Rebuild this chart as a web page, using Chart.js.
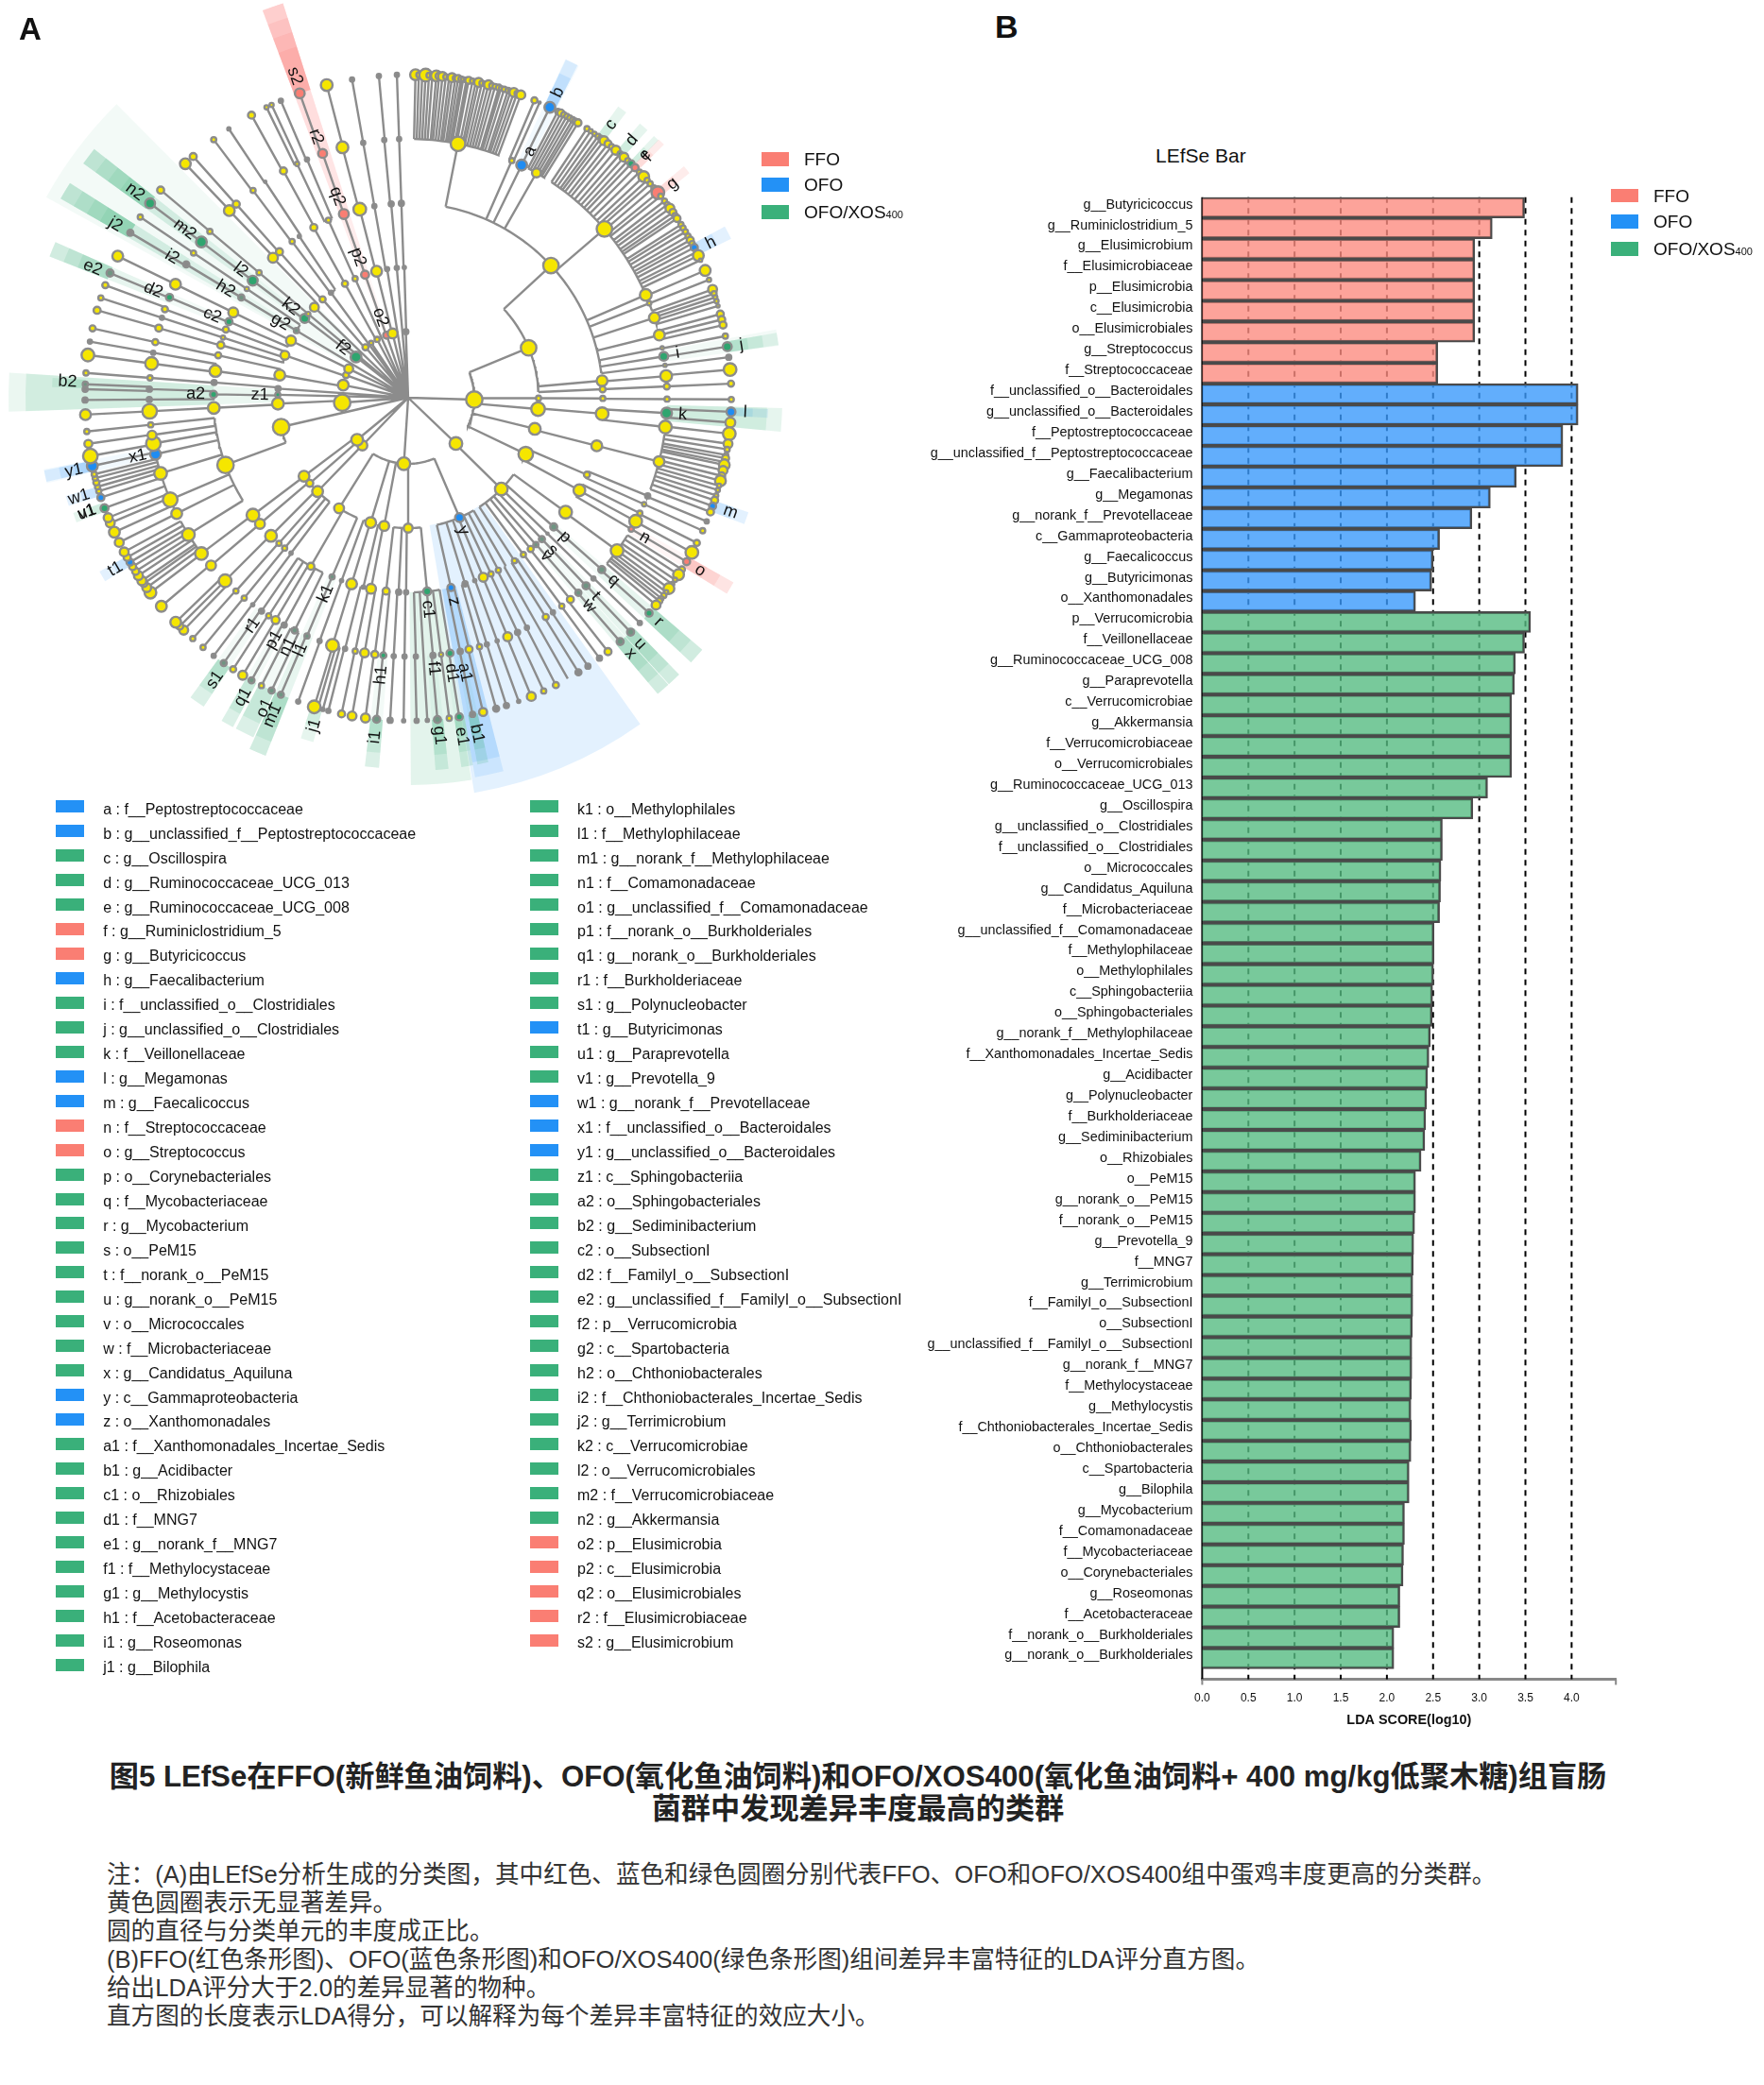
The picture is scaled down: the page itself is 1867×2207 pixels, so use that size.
<!DOCTYPE html>
<html>
<head>
<meta charset="utf-8">
<script src="https://cdn.jsdelivr.net/npm/chart.js@4"></script>
<style>
  html, body { margin: 0; padding: 0; background: #fff; }
  #page { position: relative; width: 1867px; height: 2207px; overflow: hidden; font-family: "Liberation Sans", "Noto Sans CJK SC", sans-serif; color: #111; }
  #page canvas { position: absolute; }
  .t { position: absolute; white-space: nowrap; line-height: 1; }
  .swatch { position: absolute; }
  .sub { font-size: 11px; }
  #captionTitle { position: absolute; left: 0; width: 1816px; top: 1864px; text-align: center; font-size: 31.2px; line-height: 34px; font-weight: 700; color: #222; white-space: nowrap; }
  #captionNotes { position: absolute; left: 113px; top: 1969px; font-size: 25.6px; line-height: 30.1px; color: #333; white-space: nowrap; }
</style>
</head>
<body>
<div id="page">
  <canvas id="cladogram" width="960" height="850" style="left:0;top:0"></canvas>
  <canvas id="ldaBar" width="770" height="1652" style="left:960px;top:190px"></canvas>
  <div class="t" style="left:20px;top:14px;font-size:33px;font-weight:700">A</div>
  <div class="t" style="left:1053px;top:11px;font-size:34px;font-weight:700">B</div>
  <div class="t" style="left:1223px;top:154px;font-size:21px">LEfSe Bar</div>
  <div id="captionTitle"></div>
  <div id="captionNotes"></div>
</div>

<script>
// ---- Panel B: LDA scores ----
const ffoTaxa = ['g__Butyricicoccus', 'g__Ruminiclostridium_5', 'g__Elusimicrobium', 'f__Elusimicrobiaceae', 'p__Elusimicrobia', 'c__Elusimicrobia', 'o__Elusimicrobiales', 'g__Streptococcus', 'f__Streptococcaceae'];
const ffoScores = [3.49, 3.14, 2.95, 2.95, 2.95, 2.95, 2.95, 2.55, 2.55];

const ofoTaxa = ['f__unclassified_o__Bacteroidales', 'g__unclassified_o__Bacteroidales', 'f__Peptostreptococcaceae', 'g__unclassified_f__Peptostreptococcaceae', 'g__Faecalibacterium', 'g__Megamonas', 'g__norank_f__Prevotellaceae', 'c__Gammaproteobacteria', 'g__Faecalicoccus', 'g__Butyricimonas', 'o__Xanthomonadales'];
const ofoScores = [4.07, 4.07, 3.905, 3.905, 3.40, 3.12, 2.92, 2.57, 2.50, 2.485, 2.31];

const xosTaxa = ['p__Verrucomicrobia', 'f__Veillonellaceae', 'g__Ruminococcaceae_UCG_008', 'g__Paraprevotella', 'c__Verrucomicrobiae', 'g__Akkermansia', 'f__Verrucomicrobiaceae', 'o__Verrucomicrobiales', 'g__Ruminococcaceae_UCG_013', 'g__Oscillospira', 'g__unclassified_o__Clostridiales', 'f__unclassified_o__Clostridiales', 'o__Micrococcales', 'g__Candidatus_Aquiluna', 'f__Microbacteriaceae', 'g__unclassified_f__Comamonadaceae', 'f__Methylophilaceae', 'o__Methylophilales', 'c__Sphingobacteriia', 'o__Sphingobacteriales', 'g__norank_f__Methylophilaceae', 'f__Xanthomonadales_Incertae_Sedis', 'g__Acidibacter', 'g__Polynucleobacter', 'f__Burkholderiaceae', 'g__Sediminibacterium', 'o__Rhizobiales', 'o__PeM15', 'g__norank_o__PeM15', 'f__norank_o__PeM15', 'g__Prevotella_9', 'f__MNG7', 'g__Terrimicrobium', 'f__FamilyI_o__SubsectionI', 'o__SubsectionI', 'g__unclassified_f__FamilyI_o__SubsectionI', 'g__norank_f__MNG7', 'f__Methylocystaceae', 'g__Methylocystis', 'f__Chthoniobacterales_Incertae_Sedis', 'o__Chthoniobacterales', 'c__Spartobacteria', 'g__Bilophila', 'g__Mycobacterium', 'f__Comamonadaceae', 'f__Mycobacteriaceae', 'o__Corynebacteriales', 'g__Roseomonas', 'f__Acetobacteraceae', 'f__norank_o__Burkholderiales', 'g__norank_o__Burkholderiales'];
const xosScores = [3.555, 3.49, 3.39, 3.38, 3.35, 3.35, 3.35, 3.35, 3.09, 2.93, 2.60, 2.60, 2.585, 2.58, 2.57, 2.51, 2.51, 2.505, 2.495, 2.49, 2.47, 2.455, 2.44, 2.43, 2.42, 2.41, 2.37, 2.31, 2.31, 2.30, 2.29, 2.285, 2.28, 2.28, 2.275, 2.27, 2.27, 2.265, 2.26, 2.265, 2.26, 2.24, 2.24, 2.19, 2.19, 2.18, 2.175, 2.14, 2.14, 2.075, 2.075];

const xTicks = [0, 0.5, 1, 1.5, 2, 2.5, 3, 3.5, 4];

// ---- Panel A: legend of the lettered clades ----
const keyCol1 = ['a', 'b', 'c', 'd', 'e', 'f', 'g', 'h', 'i', 'j', 'k', 'l', 'm', 'n', 'o', 'p', 'q', 'r', 's', 't', 'u', 'v', 'w', 'x', 'y', 'z', 'a1', 'b1', 'c1', 'd1', 'e1', 'f1', 'g1', 'h1', 'i1', 'j1'];
const taxaCol1 = ['f__Peptostreptococcaceae', 'g__unclassified_f__Peptostreptococcaceae', 'g__Oscillospira', 'g__Ruminococcaceae_UCG_013', 'g__Ruminococcaceae_UCG_008', 'g__Ruminiclostridium_5', 'g__Butyricicoccus', 'g__Faecalibacterium', 'f__unclassified_o__Clostridiales', 'g__unclassified_o__Clostridiales', 'f__Veillonellaceae', 'g__Megamonas', 'g__Faecalicoccus', 'f__Streptococcaceae', 'g__Streptococcus', 'o__Corynebacteriales', 'f__Mycobacteriaceae', 'g__Mycobacterium', 'o__PeM15', 'f__norank_o__PeM15', 'g__norank_o__PeM15', 'o__Micrococcales', 'f__Microbacteriaceae', 'g__Candidatus_Aquiluna', 'c__Gammaproteobacteria', 'o__Xanthomonadales', 'f__Xanthomonadales_Incertae_Sedis', 'g__Acidibacter', 'o__Rhizobiales', 'f__MNG7', 'g__norank_f__MNG7', 'f__Methylocystaceae', 'g__Methylocystis', 'f__Acetobacteraceae', 'g__Roseomonas', 'g__Bilophila'];
const groupsCol1 = ['b', 'b', 'g', 'g', 'g', 'r', 'r', 'b', 'g', 'g', 'g', 'b', 'b', 'r', 'r', 'g', 'g', 'g', 'g', 'g', 'g', 'g', 'g', 'g', 'b', 'b', 'g', 'g', 'g', 'g', 'g', 'g', 'g', 'g', 'g', 'g'];

const keyCol2 = ['k1', 'l1', 'm1', 'n1', 'o1', 'p1', 'q1', 'r1', 's1', 't1', 'u1', 'v1', 'w1', 'x1', 'y1', 'z1', 'a2', 'b2', 'c2', 'd2', 'e2', 'f2', 'g2', 'h2', 'i2', 'j2', 'k2', 'l2', 'm2', 'n2', 'o2', 'p2', 'q2', 'r2', 's2'];
const taxaCol2 = ['o__Methylophilales', 'f__Methylophilaceae', 'g__norank_f__Methylophilaceae', 'f__Comamonadaceae', 'g__unclassified_f__Comamonadaceae', 'f__norank_o__Burkholderiales', 'g__norank_o__Burkholderiales', 'f__Burkholderiaceae', 'g__Polynucleobacter', 'g__Butyricimonas', 'g__Paraprevotella', 'g__Prevotella_9', 'g__norank_f__Prevotellaceae', 'f__unclassified_o__Bacteroidales', 'g__unclassified_o__Bacteroidales', 'c__Sphingobacteriia', 'o__Sphingobacteriales', 'g__Sediminibacterium', 'o__SubsectionI', 'f__FamilyI_o__SubsectionI', 'g__unclassified_f__FamilyI_o__SubsectionI', 'p__Verrucomicrobia', 'c__Spartobacteria', 'o__Chthoniobacterales', 'f__Chthoniobacterales_Incertae_Sedis', 'g__Terrimicrobium', 'c__Verrucomicrobiae', 'o__Verrucomicrobiales', 'f__Verrucomicrobiaceae', 'g__Akkermansia', 'p__Elusimicrobia', 'c__Elusimicrobia', 'o__Elusimicrobiales', 'f__Elusimicrobiaceae', 'g__Elusimicrobium'];
const groupsCol2 = ['g', 'g', 'g', 'g', 'g', 'g', 'g', 'g', 'g', 'b', 'g', 'g', 'b', 'b', 'b', 'g', 'g', 'g', 'g', 'g', 'g', 'g', 'g', 'g', 'g', 'g', 'g', 'g', 'g', 'g', 'r', 'r', 'r', 'r', 'r'];

// ---- Panel A: the tree. Angles are clock degrees ----
// ring 1: [angle, size, group]
const ring1 = [[91.6,9,'y'],[133.8,7,'y'],[183.7,7,'y'],[223.8,5.5,'y'],[230.5,6.5,'y'],[265.7,9,'y'],[281,6,'y'],[290,3.5,'y'],[296,5,'y'],[308,6,'g'],[319.8,3.5,'y'],[326,2.5,'y'],[332,3,'y'],[341,4,'r'],[346.4,5.5,'y'],[358,3,'n']];

// ring 2 to 4: [angle, parent angle (null = straight from the root), size, group]
const ring2 = [[67.5,91.6,8.5,'y'],[90.2,91.6,3,'y'],[95,91.6,7.5,'y'],[103.8,91.6,6.5,'y'],[115.6,91.6,8,'y'],
  [134.4,133.8,7,'y'],[156.8,183.7,5,'b'],[180,183.7,5,'y'],[190.6,183.7,5.5,'y'],[196.7,183.7,6,'y'],[212,183.7,5.5,'y'],
  [224,223.8,6,'y'],[229,230.5,4,'y'],[233,230.5,6,'y'],[257,null,9,'y'],[267.4,265.7,6.5,'y'],[271.3,null,3,'g'],[274,null,3,'n'],[280,281,6,'y'],[289,290,5,'y'],[296,296,5.5,'y'],
  [301,null,3,'d'],[307.5,308,5,'g'],[310,null,2.5,'y'],[314,null,5,'y'],[319,319.8,3.5,'y'],[323.7,null,2.5,'n'],[331,332,3.5,'y'],[336,null,3,'y'],[340.7,341,4.5,'r'],[346,346.4,6,'y'],[350.7,null,2.5,'n'],[355,null,2.5,'n'],[358.3,358,2,'n']];

const ring3 = [[47.2,67.5,8.5,'y'],[85,67.5,6,'y'],[87.5,67.5,3.5,'y'],[90.2,90.2,3,'y'],[94.7,95,7,'y'],[104.3,103.8,6,'y'],[113.3,115.6,3.5,'y'],[118.4,115.6,6.5,'y'],
  [126,134.4,7,'y'],[131.6,134.4,4,'d'],[134.3,134.4,1.5,'n'],[136.6,134.4,3.5,'d'],[139,134.4,3,'d'],[141,134.4,3.5,'y'],[143.7,134.4,3,'y'],[146.9,134.4,3,'y'],
  [149.9,156.8,0,'n'],[152.4,156.8,3,'y'],[154.8,156.8,3,'y'],[157.3,156.8,5,'y'],[160,156.8,2,'n'],[163,156.8,3,'n'],[167.3,156.8,4,'b'],
  [174.4,180,4.5,'g'],[180.6,180,2.5,'n'],[182.8,180,3,'n'],[186.5,180,4,'y'],[191,190.6,5.5,'y'],[193.3,190.6,2,'n'],[196.9,196.7,6,'y'],[200,196.7,2,'n'],[203,212,3,'d'],[210,212,4,'y'],
  [217,224,2,'n'],[219.4,224,3,'y'],[221.6,224,3,'y'],[224.8,229,6.5,'y'],[229.6,233,5.5,'y'],[232.9,233,7,'y'],[249.8,257,9,'y'],
  [267,267.4,6.5,'y'],[271,271.3,4,'g'],[274.5,274,3,'n'],[277.9,280,6.5,'y'],[282.6,280,3.5,'y'],[285.7,289,4,'y'],[288,289,2.5,'y'],[290.5,289,3.5,'y'],[293,296,4,'g'],[296,296,5.5,'y'],
  [301,301,3.5,'d'],[304,301,2.5,'y'],[307,307.5,5.5,'g'],[310,310,3,'y'],[316,314,5.5,'y'],[318.6,319,4,'y'],[323.4,323.7,3,'y'],[326,323.7,2,'n'],[331,331,4,'y'],[335.8,336,3,'y'],[340.7,340.7,5.5,'r'],[345.6,346,7,'y'],[350,350.7,2.5,'n'],[355,355,3,'n'],[358,358.3,3,'n']];

const ring4 = [[11.1,47.2,8,'y'],[23.6,47.2,3,'y'],[26,47.2,6,'b'],[29.7,47.2,5,'y'],[49.3,47.2,8.5,'y'],[66.6,47.2,6.5,'y'],[68.6,47.2,2.5,'y'],[72,47.2,6,'y'],[76,47.2,6,'y'],[78.9,47.2,2,'y'],[80.8,47.2,5,'g'],[82.8,47.2,2,'y'],
  [85.2,85,6.5,'y'],[87.5,87.5,3.5,'y'],[90.3,90.2,3,'y'],[93.4,94.7,6,'g'],[96.5,94.7,7,'y'],[104.3,104.3,6,'y'],[112.3,113.3,3,'n'],[114.3,113.3,2.5,'y'],[116.5,118.4,3,'y'],[118.5,118.4,7,'y'],[120.5,118.4,3,'r'],
  [126.2,126,7,'y'],[131.6,131.6,4,'d'],[134.3,134.3,2.5,'n'],[136.6,136.6,4,'d'],[138.9,139,3.5,'d'],[141.2,141,4,'y'],[143.6,143.7,3,'y'],[146,146.9,2.5,'n'],[147.9,146.9,3.5,'y'],
  [150.4,149.9,0,'n'],[152.7,152.4,2.5,'n'],[155,154.8,3,'n'],[157.4,157.3,5,'y'],[159.9,160,2,'n'],[162.3,163,2.5,'n'],[164,163,3,'y'],[166.4,167.3,4,'y'],[168.4,167.3,3,'n'],
  [170.7,174.4,4,'g'],[172.7,174.4,2.5,'y'],[174.5,174.4,3,'n'],[176.6,174.4,0,'n'],[178.3,174.4,2.5,'n'],[180.8,180.6,2.5,'n'],[183.2,182.8,2.5,'n'],[185.5,186.5,3.5,'g'],[187.4,186.5,4,'y'],[189.7,191,5,'y'],[191.8,191,3,'y'],[194.1,193.3,2.5,'n'],[197,196.9,7,'y'],[200,200,2.5,'n'],
  [203,203,3,'d'],[206,210,3.5,'d'],[208.6,210,3,'n'],[210.8,210,4.5,'y'],[212.6,210,3,'y'],[214.5,210,3,'n'],[216.9,217,2,'n'],[219.3,219.4,3,'y'],[221.7,221.6,3,'y'],[225,224.8,7,'y'],[229.6,229.6,5.5,'y'],[233,232.9,7,'y'],
  [238.1,249.8,7,'y'],[243.4,249.8,6,'y'],[246.8,249.8,8,'y'],[253,249.8,7,'y'],[257.4,249.8,6,'b'],[259.8,249.8,8,'y'],[261.7,249.8,5,'y'],[264,249.8,3,'y'],
  [267,267,8,'y'],[269.6,271,3,'n'],[271.9,271,3,'n'],[274.4,274.5,3,'y'],[277.6,277.9,7,'y'],[280,277.9,2.5,'n'],[282.4,282.6,3.5,'y'],[285.6,285.7,4,'y'],[288,288,2.5,'n'],[290,290.5,3.5,'y'],[292.8,293,4,'g'],[296,296,6,'y'],
  [301,301,3.5,'n'],[304,304,3,'y'],[307,307,6,'g'],[310,310,3,'y'],[316.3,316,6,'y'],[318.4,318.6,4,'y'],[323.2,323.4,3,'y'],[326.5,326,1.5,'n'],[331.2,331,4,'y'],[334.6,335.8,2.5,'y'],[337,335.8,2.5,'n'],[340.7,340.7,5,'r'],[345.3,345.6,6.5,'y'],[350,350,2.5,'n'],[354.7,355,2.5,'n'],[358,358,2.5,'n']];

// ring 5 fans: [parent angle, leaf angles, leaf sizes]
const ring5 = [
  [11.1, [1.3,1.9,2.5,3.1,3.7,4.3,5,5.5,6.1,6.7,7.3,7.8,8.4,8.9,9.4,9.8,10.4,10.8,11.5,12.1,12.6,13.2,13.8,14.4,15,15.6,16.3,16.7,17.3,18,18.5,19.1,19.7,20.4], [6,3,3,7,3,3,6,4,5,3,3,5,3,4,3,2.5,3,4,3,3,5,3,3,5,3,3,3.5,2.5,3,3,3,5,3,5]],
  [23.6, [23,24], [3.5,1.5]],
  [26, [26], [6]],
  [29.7, [27.6,28.2,28.8,29.4,30,30.6,31.1,31.7], [3,4,3,3,3,3,3,4]],
  [49.3, [33.6,34.4,35.2,36,36.6,37.3,38.2,39,40,41,41.9,42.8,43.6,44.6,45.7,46.8,47.7,48.5,49.5,50.6,51.4,52.5,53.3,54.1,55,55.7,56.3,57.6,58.3,59.1,60,60.8,61.5,62.3,63.2,63.9,64.8], [3,2.5,2.5,3,3,5,4,3,5,3,5,3,4,4,3,6,3,3,3,7,3,3,3,5,4,3,4,3,3,3,3,4,3,4,3,6,2]],
  [66.6, [66.8,68.6,70.4], [6,2.5,5]],
  [72, [71.2,71.9,72.6,73.5], [3,2.5,2.5,2]],
  [76, [75,76,77], [4,4,4]],
  [78.9, [79], [3]],
  [80.8, [80.9], [5]],
  [82.8, [82.8], [3]],
  [85.2, [85], [7]],
  [87.5, [87.5], [3.5]],
  [90.3, [90.3], [3]],
  [93.4, [92.5,94.4], [5,5.5]],
  [96.5, [96.4], [7]],
  [104.3, [98.2,99.2,100.2,100.8,101.5,102,103,104,104.9,105.8,106.6,107.6,108.5,109.6,110.7], [5,3,2.5,4,3,6,5,4,6,2.5,2.5,2.5,4,4,4]],
  [112.3, [112.5], [2.5]],
  [114.3, [114.3], [3]],
  [116.5, [116.7], [3.5]],
  [118.5, [118.6], [7]],
  [120.5, [120.5], [4]],
  [126.2, [122.1,123.2,124.3,125.2,126.2,127,127.7,128.4,129,129.9], [3.5,6,2.5,2.5,6,2.5,3,2.5,3.5,5]],
  [131.6, [131.8], [4]],
  [134.3, [134.2], [2.5]],
  [136.6, [136.5], [4]],
  [138.9, [139], [4]],
  [141.2, [141.8], [4]],
  [143.6, [143.7], [3]],
  [146, [146.2], [3]],
  [147.9, [148.2], [3.5]],
  [150.4, [150.4], [0]],
  [152.7, [152.8], [3.5]],
  [155, [155.2], [3]],
  [157.4, [157.6], [5]],
  [159.9, [160], [2]],
  [162.3, [162.3], [3]],
  [164, [164.2], [3.5]],
  [166.4, [166.6], [4.5]],
  [168.4, [168.5], [3]],
  [170.7, [170.9], [4]],
  [172.7, [172.7], [3]],
  [174.5, [174.8], [4]],
  [176.6, [176.6], [2]],
  [178.3, [178.5], [2.5]],
  [180.8, [180.8], [2]],
  [183.2, [183.2], [3]],
  [185.5, [185.6], [4]],
  [187.4, [187.6], [5]],
  [189.7, [190], [5]],
  [191.8, [191.9], [4]],
  [194.1, [194.3], [2.5]],
  [197, [195.3,196.2,196.9], [2,3,7]],
  [200, [199.9], [2.5]],
  [203, [203.2], [3.5]],
  [206, [205,207], [3.5,3]],
  [208.6, [209], [3.5]],
  [210.8, [210.8], [5]],
  [212.6, [212.8], [3.5]],
  [214.5, [214.8], [3.5]],
  [216.9, [217], [2.5]],
  [219.3, [219.4], [3]],
  [221.7, [221.8], [3]],
  [225, [224,225,226], [5,4,6]],
  [229.6, [229.8], [6]],
  [233, [232.9], [6.5]],
  [238.1, [234,234.9,235.5,236.6,237.5,238.5,239.4,240.4,241.5], [5,4,5,5,4,4,4,4,5]],
  [243.4, [243.4,245.4], [5,6]],
  [246.8, [247.2,248.2,250,252], [5,5,4.5,4]],
  [253, [253.2,254,254.8,255.6,256.3], [3,3,3.5,3,3]],
  [257.4, [257.8], [6]],
  [259.8, [259.6], [8]],
  [261.7, [261.8], [4.5]],
  [264, [264], [3]],
  [267, [267], [6]],
  [269.6, [269.6], [3]],
  [271.9, [271.5,272.4], [3,3]],
  [274.4, [274.4], [3]],
  [277.6, [277.6], [7]],
  [280, [280], [2.5]],
  [282.4, [282.4], [3.5]],
  [285.6, [285.7], [4]],
  [288, [288], [3]],
  [290, [290.4], [3.5]],
  [292.8, [292.7], [4]],
  [296, [296], [6]],
  [301, [300.7], [3.5]],
  [304, [304], [3]],
  [307, [307], [5.5]],
  [310, [310], [4]],
  [316.3, [316.4], [6]],
  [318.4, [318.3], [4]],
  [323.2, [323], [3]],
  [326.5, [326.3], [2]],
  [331.2, [331], [4]],
  [334.6, [334,335], [2.5,2.5]],
  [337, [336.8], [2.5]],
  [340.7, [340.4], [5.5]],
  [345.3, [345.4], [6.5]],
  [350, [350], [2.5]],
  [354.7, [354.8], [2.5]],
  [358, [358], [2.5]]
];

// leaves that are not yellow: angle -> group
const leafGroups = {26:'b',36.6:'g',41:'g',43.6:'g',44.6:'r',50.6:'r',62.3:'b',80.9:'g',82.8:'n',92.5:'b',109.6:'b',112.5:'n',120.5:'r',131.8:'g',134.2:'n',136.5:'d',139:'d',143.7:'n',146.2:'n',148.2:'n',160:'n',162.3:'n',164.2:'n',168.5:'n',170.9:'g',174.8:'d',176.6:'n',178.5:'n',180.8:'n',183.2:'n',185.6:'d',194.3:'n',195.3:'n',199.9:'n',203.2:'d',205:'d',209:'d',214.8:'d',217:'n',239.4:'b',250:'g',252:'b',257.8:'b',269.6:'n',271.5:'n',272.4:'d',280:'n',292.7:'d',300.7:'n',307:'g',326.3:'n',336.8:'n',340.4:'r',350:'n',354.8:'n',358:'n'};

// highlighted sectors: [from angle, to angle, inner r, outer r, group, nested steps, opacity]
const sectors = [
  [144.6,170.5,137,424,'b',1,0.127],[299,315.2,70,438,'g',1,0.06],[170.6,179.6,206,410,'g',1,0.14],[268,273.6,136,423,'g',1,0.1],[268,273.6,206,405,'g',1,0.14],
  [339.4,342.4,70,438,'r',1],[339.4,342.4,138,438,'r',1],[339.4,342.4,206,438,'r',1],[339.4,342.4,274,438,'r',1],[339.4,342.4,342,438,'r',4],
  [119.6,121.6,274,396,'r',1],[119.6,121.6,342,396,'r',3],[44.1,45.3,342,381,'r',2],[50,51.4,342,381,'r',2],
  [24.9,27.2,274,395,'b',1],[25,27,342,395,'b',3],[61.6,63.8,342,381,'b',2],[91.8,93.2,342,381,'b',2],[108.6,110.6,342,380,'b',2],[238.8,240.6,342,375,'b',2],[252.3,254,342,377,'b',2],[256.7,258.9,274,393,'b',1],[256.9,258.7,342,393,'b',3],[165.7,170,206,408,'b',2],
  [35.8,37.4,342,380,'g',2],[40.2,41.8,342,380,'g',2],[43.2,44.2,342,380,'g',2],[79.5,82,274,396,'g',1],[80,81.9,342,396,'g',3],[91.6,95.2,274,396,'g',2],
  [130.6,133.1,206,410,'g',1],[130.6,133.1,274,410,'g',1],[130.6,133.1,342,410,'g',3],[135.6,137.7,206,410,'g',1],[135.6,137.7,274,410,'g',1],[135.6,137.7,342,410,'g',3],[137.8,139.9,206,410,'g',1],[137.8,139.9,274,410,'g',1],[137.8,139.9,342,410,'g',3],
  [167.6,169.3,274,395,'g',1],[167.6,169.3,342,395,'g',3],[170,171.8,274,395,'g',1],[170,171.8,342,395,'g',3],[173.8,175.8,274,395,'g',1],[173.8,175.8,342,395,'g',3],[184.5,186.7,274,393,'g',1],[184.5,186.7,342,393,'g',3],[195.4,197.5,342,378,'g',2],
  [201.7,204.3,206,408,'g',1],[201.7,204.3,274,408,'g',1],[201.7,204.3,342,408,'g',3],[204.5,207.5,274,395,'g',1],[204.5,207.5,342,395,'g',2],[208,210,274,395,'g',1],[208,210,342,395,'g',2],[213.5,216,274,392,'g',1],[213.5,216,342,392,'g',3],
  [249.4,251,342,375,'g',2],[271.7,273.2,342,377,'g',2],[291.5,293.8,206,408,'g',1],[291.5,293.8,274,408,'g',1],[291.5,293.8,342,408,'g',3],
  [299.8,302.4,138,424,'g',1],[299.8,302.4,206,424,'g',1],[299.8,302.4,274,424,'g',1],[299.8,302.4,342,424,'g',4],[305.8,308.4,138,424,'g',1],[305.8,308.4,206,424,'g',1],[305.8,308.4,274,424,'g',1],[305.8,308.4,342,424,'g',4]
];

// clade letters: [text, angle, r]
const cladeLabels = [['a',26.3,291],['b',26.1,360],['c',36.6,360],['d',41,361],['e',44.3,359],['f',44.9,359],['g',51,360],['h',62.9,360],['i',80.6,289],['j',81,357],['k',93.5,291],['l',92.5,357],['m',109.5,362],['n',120.6,291],['o',120.6,359],['p',131.6,222],['q',131.6,291],['r',131.8,356],['s',136.6,222],['t',136.6,289],['u',136.7,358],['v',139,222],['w',139,292],['x',139,359],['y',157.5,152],['z',167.3,221],
  ['a1',168.3,297],['b1',168.4,363],['c1',174.6,225],['d1',171,295],['e1',171,363],['f1',174.6,288],['g1',174.7,359],['h1',185.6,295],['i1',185.6,361],['j1',196,361],['k1',202.8,225],['l1',203.1,290],['m1',203.1,366],['n1',205.8,293],['o1',204.8,362],['p1',209,293],['q1',208.9,362],['r1',214.4,292],['s1',214.4,362],['t1',239.7,359],['u1',250.4,361],['v1',250.4,361],['w1',253.2,364],['x1',257.8,293],['y1',257.7,362],['z1',271.1,157],
  ['a2',271,225],['b2',272.7,361],['c2',292.8,225],['d2',292.9,293],['e2',292.4,361],['f2',307.5,87],['g2',300.7,157],['h2',300.8,225],['i2',300.8,291],['j2',300.6,360],['k2',307.7,157],['l2',307.3,223],['m2',307,296],['n2',307,362],['o2',341,90],['p2',340.4,158],['q2',340.6,226],['r2',340.6,293],['s2',340.6,361]];

const ringRadius = [0, 70, 138, 206, 274, 342];

const captionLines = ['图5 LEfSe在FFO(新鲜鱼油饲料)、OFO(氧化鱼油饲料)和OFO/XOS400(氧化鱼油饲料+ 400 mg/kg低聚木糖)组盲肠', '菌群中发现差异丰度最高的类群'];
const noteLines = ['注：(A)由LEfSe分析生成的分类图，其中红色、蓝色和绿色圆圈分别代表FFO、OFO和OFO/XOS400组中蛋鸡丰度更高的分类群。', '黄色圆圈表示无显著差异。', '圆的直径与分类单元的丰度成正比。', '(B)FFO(红色条形图)、OFO(蓝色条形图)和OFO/XOS400(绿色条形图)组间差异丰富特征的LDA评分直方图。', '给出LDA评分大于2.0的差异显著的物种。', '直方图的长度表示LDA得分，可以解释为每个差异丰富特征的效应大小。'];

// Colors
const swatchColors = { r: '#fa7e73', b: '#2391f6', g: '#3ab07a' };
const barFills = { r: 'rgba(252,140,129,0.8)', b: 'rgba(59,154,251,0.8)', g: 'rgba(86,187,130,0.8)' };
const nodeFills = { y: '#f5e600', r: '#fa7e73', b: '#1f8cf2', g: '#2fa56f', n: '#8a8a8a', d: '#6f9582' };
const sectorRgb = { r: '250,110,100', b: '35,145,246', g: '58,176,122' };
const stemColor = '#8c8c8c';

Chart.defaults.font.family = '"Liberation Sans", sans-serif';
Chart.defaults.animation = false;

// DOM legends and caption
const page = document.getElementById('page');

function addText(x, y, size, html) {
    const el = document.createElement('div');
    el.className = 't';
    el.style.cssText = 'left:' + x + 'px;top:' + (y - size / 2) + 'px;font-size:' + size + 'px';
    el.innerHTML = html;
    page.appendChild(el);
}

function addSwatch(x, y, w, h, color) {
    const el = document.createElement('div');
    el.className = 'swatch';
    el.style.cssText = 'left:' + x + 'px;top:' + y + 'px;width:' + w + 'px;height:' + h + 'px;background:' + color;
    page.appendChild(el);
}

function addGroupLegend(swatchX, textX, rows) {
    const names = ['FFO', 'OFO', 'OFO/XOS<span class="sub">400</span>'];
    ['r', 'b', 'g'].forEach((g, i) => {
        addSwatch(swatchX, rows[i], 29, 14.5, swatchColors[g]);
        addText(textX, rows[i] + 7.5, 19, names[i]);
    });
}

addGroupLegend(806, 851, [161, 188, 217]);
addGroupLegend(1704.5, 1750, [199.5, 227, 256]);

function addCladeLegend(swatchX, textX, keys, taxa, groups) {
    keys.forEach((k, i) => {
        addSwatch(swatchX, 847.3 + i * 25.95, 30, 13, swatchColors[groups[i]]);
        addText(textX, 856.7 + i * 25.95, 16, k + ' : ' + taxa[i]);
    });
}

addCladeLegend(58.8, 109.2, keyCol1, taxaCol1, groupsCol1);
addCladeLegend(561, 611, keyCol2, taxaCol2, groupsCol2);

document.getElementById('captionTitle').innerHTML = captionLines.join('<br>');
document.getElementById('captionNotes').innerHTML = noteLines.join('<br>');

// Cladogram geometry
function polar(angle, r) {
    const rad = angle * Math.PI / 180;
    return { x: r * Math.sin(rad), y: r * Math.cos(rad) };
}

function nearestAngle(list, angle) {
    return list.reduce((best, row) => Math.abs(row[0] - angle) < Math.abs(best[0] - angle) ? row : best)[0];
}

// flatten the leaf fans into the same row shape as the inner rings
const ring5Rows = [];
ring5.forEach(([parent, angles, sizes]) => {
    angles.forEach((a, i) => ring5Rows.push([a, parent, sizes[i], leafGroups[a] || 'y']));
});

const ring1Rows = ring1.map(r => [r[0], null, r[1], r[2]]);
const rings = [null, ring1Rows, ring2, ring3, ring4, ring5Rows];

function buildEdges() {
    const pts = [];
    const gap = () => pts.push({ x: null, y: null });
    for (let level = 1; level <= 5; level++) {
        const families = new Map();
        rings[level].forEach(row => {
            if (row[1] === null) {
                pts.push({ x: 0, y: 0 }, polar(row[0], ringRadius[level]));
                gap();
                return;
            }
            const parent = nearestAngle(rings[level - 1], row[1]);
            if (!families.has(parent)) families.set(parent, []);
            families.get(parent).push(row[0]);
        });
        families.forEach((children, parent) => {
            const rp = ringRadius[level - 1];
            children.forEach(a => {
                pts.push(polar(a, rp), polar(a, ringRadius[level]));
                gap();
            });
            const lo = Math.min(parent, ...children);
            const hi = Math.max(parent, ...children);
            for (let a = lo; a < hi; a += 1) pts.push(polar(a, rp));
            pts.push(polar(hi, rp));
            gap();
        });
    }
    return pts;
}

function buildNodes() {
    const data = [], radius = [], fill = [];
    for (let level = 5; level >= 1; level--) {
        rings[level].forEach(row => {
            if (!row[2]) return;
            data.push(polar(row[0], ringRadius[level]));
            radius.push(row[2] - 0.3);
            fill.push(nodeFills[row[3]]);
        });
    }
    return { data, radius, fill };
}

// sectors go under the tree, letters over it
const sectorPlugin = {
    id: 'sectors',
    beforeDatasetsDraw(chart) {
        const { ctx, scales: { x, y } } = chart;
        const cx = x.getPixelForValue(0), cy = y.getPixelForValue(0);
        ctx.save();
        sectors.forEach(([a0, a1, r0, r1, g, steps, alpha]) => {
            ctx.fillStyle = 'rgba(' + sectorRgb[g] + ',' + (alpha || (steps > 1 ? 0.13 : 0.06)) + ')';
            for (let s = 0; s < steps; s++) {
                const outer = x.getPixelForValue(r1 - s * 16) - cx;
                const inner = x.getPixelForValue(r0) - cx;
                ctx.beginPath();
                ctx.arc(cx, cy, outer, (a0 - 90) * Math.PI / 180, (a1 - 90) * Math.PI / 180);
                ctx.arc(cx, cy, inner, (a1 - 90) * Math.PI / 180, (a0 - 90) * Math.PI / 180, true);
                ctx.closePath();
                ctx.fill();
            }
        });
        ctx.restore();
    }
};

const cladeLabelPlugin = {
    id: 'cladeLabels',
    afterDatasetsDraw(chart) {
        const { ctx, scales: { x, y } } = chart;
        ctx.save();
        ctx.font = '18px "Liberation Sans"';
        ctx.fillStyle = '#111';
        ctx.textAlign = 'center';
        ctx.textBaseline = 'middle';
        cladeLabels.forEach(([text, angle, r]) => {
            const p = polar(angle, r);
            const rot = angle < 180 ? angle - 90 : angle - 270;
            ctx.save();
            ctx.translate(x.getPixelForValue(p.x), y.getPixelForValue(p.y));
            ctx.rotate(rot * Math.PI / 180);
            ctx.fillText(text, 0, 0);
            ctx.restore();
        });
        ctx.restore();
    }
};

const nodes = buildNodes();

new Chart(document.getElementById('cladogram'), {
    type: 'scatter',
    data: {
        datasets: [
            {
                data: nodes.data,
                pointRadius: nodes.radius,
                pointBackgroundColor: nodes.fill,
                pointBorderColor: stemColor,
                pointBorderWidth: 2.4,
                showLine: false
            },
            {
                data: buildEdges(),
                showLine: true,
                borderColor: stemColor,
                borderWidth: 2.4,
                pointRadius: 0,
                spanGaps: false
            }
        ]
    },
    options: {
        responsive: false,
        layout: { padding: 0, autoPadding: false },
        plugins: { legend: { display: false }, tooltip: { enabled: false } },
        events: [],
        scales: {
            x: { type: 'linear', min: -432, max: 528, display: false },
            y: { type: 'linear', min: -429, max: 421, display: false }
        }
    },
    plugins: [sectorPlugin, cladeLabelPlugin]
});

// LDA bar chart
const barTaxa = [...ffoTaxa, ...ofoTaxa, ...xosTaxa];
const barScores = [...ffoScores, ...ofoScores, ...xosScores];
const barGroups = [...ffoTaxa.map(() => 'r'), ...ofoTaxa.map(() => 'b'), ...xosTaxa.map(() => 'g')];
const axisValue = barTaxa.length; // spare row below the last bar carries the x axis

const referenceLines = {
    id: 'referenceLines',
    beforeDatasetsDraw(chart) {
        const { ctx, chartArea, scales: { x, y } } = chart;
        const axisY = y.getPixelForValue(axisValue);
        ctx.save();
        ctx.strokeStyle = '#000';
        ctx.lineWidth = 2;
        ctx.setLineDash([6, 5.5]);
        xTicks.slice(1).forEach(v => {
            ctx.beginPath();
            ctx.moveTo(x.getPixelForValue(v), chartArea.top);
            ctx.lineTo(x.getPixelForValue(v), axisY);
            ctx.stroke();
        });
        ctx.setLineDash([]);
        ctx.beginPath();
        ctx.moveTo(x.getPixelForValue(0), chartArea.top);
        ctx.lineTo(x.getPixelForValue(0), axisY);
        ctx.stroke();
        ctx.strokeStyle = '#888';
        [x.min, x.max].forEach(v => {
            ctx.beginPath();
            ctx.moveTo(x.getPixelForValue(v), axisY);
            ctx.lineTo(x.getPixelForValue(v), axisY + 6);
            ctx.stroke();
        });
        ctx.restore();
    }
};

new Chart(document.getElementById('ldaBar'), {
    type: 'bar',
    data: {
        labels: [...barTaxa, ''],
        datasets: [{
            data: barScores,
            backgroundColor: barGroups.map(g => barFills[g]),
            borderColor: '#4a4a4a',
            borderWidth: 2.3,
            barThickness: 22
        }]
    },
    options: {
        indexAxis: 'y',
        responsive: false,
        layout: { padding: { top: 16.5, right: 19.8, bottom: 53.6, left: 0 } },
        plugins: { legend: { display: false }, tooltip: { enabled: false } },
        events: [],
        scales: {
            y: {
                type: 'category',
                border: { display: false },
                grid: { display: false, drawTicks: false },
                ticks: {
                    autoSkip: false,
                    padding: 10,
                    labelOffset: -3,
                    color: '#111',
                    font: { size: 14.4 }
                },
                afterFit(scale) { scale.width = 312.4; }
            },
            x: {
                type: 'linear',
                position: { y: axisValue },
                min: 0,
                max: 4.479,
                border: { display: true, color: '#888', width: 3 },
                grid: { display: false, drawTicks: false },
                ticks: {
                    stepSize: 0.5,
                    includeBounds: false,
                    padding: 13,
                    color: '#111',
                    font: { size: 12 },
                    callback: v => v.toFixed(1)
                },
                title: {
                    display: true,
                    text: 'LDA SCORE(log10)',
                    color: '#111',
                    font: { size: 14.4, weight: 'bold' },
                    padding: 0
                },
                afterFit(scale) { scale.height = 52; }
            }
        }
    },
    plugins: [referenceLines]
});
</script>
</body>
</html>
